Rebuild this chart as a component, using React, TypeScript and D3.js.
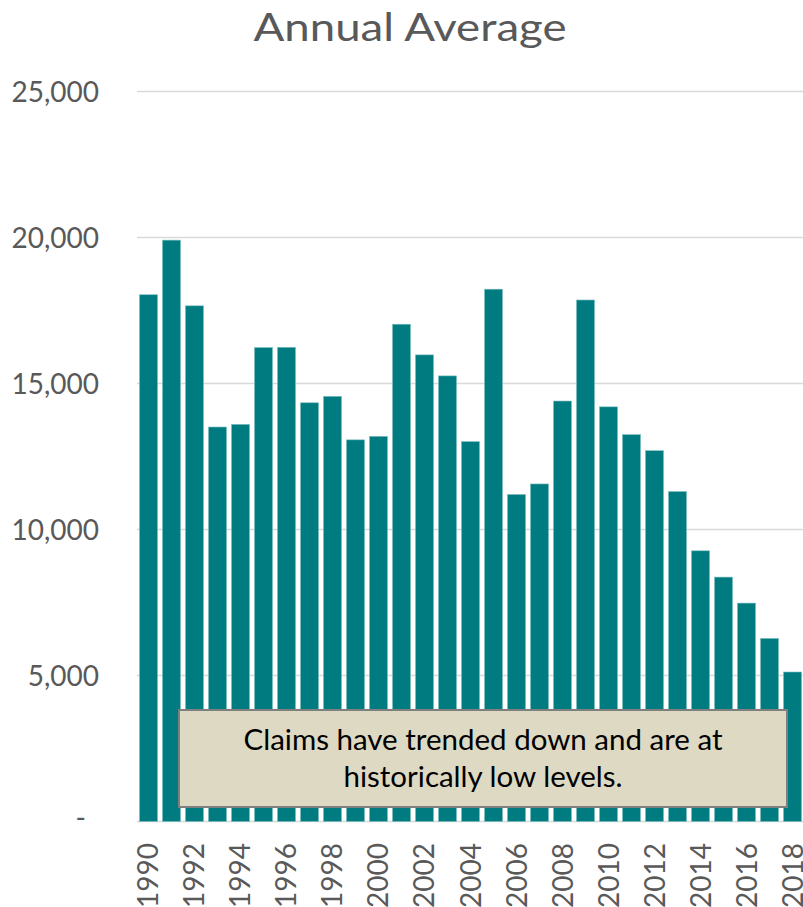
import React from "react";
import * as d3 from "d3";

const years = [1990,1991,1992,1993,1994,1995,1996,1997,1998,1999,2000,2001,2002,2003,2004,2005,2006,2007,2008,2009,2010,2011,2012,2013,2014,2015,2016,2017,2018];
const claims = [18040,19910,17660,13510,13600,16230,16240,14340,14560,13070,13190,17030,15980,15260,13010,18230,11200,11560,14400,17860,14200,13250,12700,11300,9270,8370,7480,6270,5120];
const yTicks = [0,5000,10000,15000,20000,25000];
const title = "Annual Average";
const noteLines = ["Claims have trended down and are at", "historically low levels."];

const W = 803, H = 907;
const left = 137, right = 804, top = 91.5, bottom = 821.5;

export default function App() {
  const x = d3.scaleBand<number>().domain(years).range([left, right]).paddingInner(0.217).paddingOuter(0.108);
  const y = d3.scaleLinear().domain([0, 25000]).range([bottom, top]);
  const fmt = d3.format(",");
  const font = "Lato, 'Open Sans', sans-serif";
  return (
    <svg width={W} height={H} style={{ position: "absolute", left: 0, top: 0, background: "#fff" }}>
      <text x={410} y={40.5} textAnchor="middle" fontFamily={font} fontSize={38} fill="#595959" textLength={313} lengthAdjust="spacingAndGlyphs">{title}</text>
      {yTicks.map(t => (
        <g key={t}>
          <line x1={left} x2={W} y1={y(t)} y2={y(t)} stroke="#d9d9d9" strokeWidth={1.5} />
          <text x={t === 0 ? 86 : 99} y={y(t) + (t === 0 ? 6 : 10)} textAnchor="end" fontFamily={font} fontSize={28} fill="#595959">{t === 0 ? "-" : fmt(t)}</text>
        </g>
      ))}
      {years.map((yr, i) => (
        <rect key={yr} x={x(yr)} y={y(claims[i])} width={x.bandwidth()} height={bottom - y(claims[i])} fill="#007C80" stroke="#7fbfc1" strokeWidth={0.6} />
      ))}
      {years.filter(yr => yr % 2 === 0).map(yr => {
        const cx = (x(yr) as number) + x.bandwidth() / 2;
        return (
          <text key={yr} transform={`translate(${cx + 10},843) rotate(-90)`} textAnchor="end" fontFamily={font} fontSize={28} fill="#595959">{yr}</text>
        );
      })}
      <rect x={179} y={710} width={608} height={97} fill="#DDD9C3" stroke="#7F7F7F" strokeWidth={2} />
      {noteLines.map((l, i) => (
        <text key={i} x={483} y={750 + i * 36.5} textAnchor="middle" fontFamily={font} fontSize={29.5} fill="#000">{l}</text>
      ))}
    </svg>
  );
}
